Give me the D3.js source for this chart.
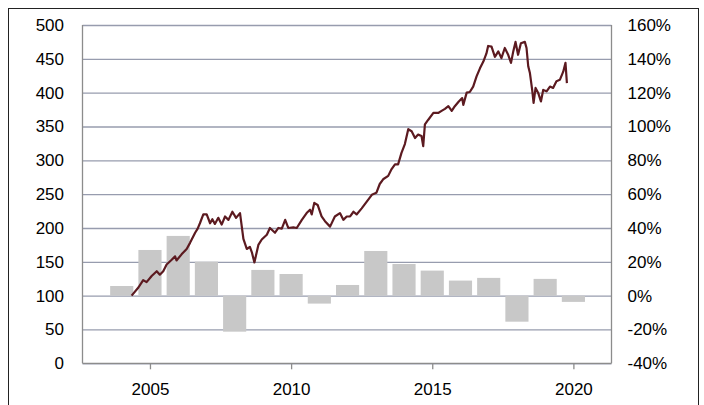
<!DOCTYPE html>
<html>
<head>
<meta charset="utf-8">
<script src="https://cdn.jsdelivr.net/npm/d3@7"></script>
<style>
  body { margin: 0; background: #fff; }
  svg text { font-family: "Liberation Sans", Arial, sans-serif; font-size: 17px; fill: #000; }
</style>
</head>
<body>
<svg width="704" height="405"></svg>
<script>
/*
 * Data.
 * Index level (left axis) as decimal years + values,
 * yearly returns in percent (right axis) as bars.
 */
var lineYears = [
  2004.35, 2004.59, 2004.76, 2004.88, 2005.06, 2005.24, 2005.35, 2005.47, 2005.59, 2005.77,
  2005.89, 2005.94, 2006.12, 2006.30, 2006.42, 2006.60, 2006.69, 2006.77, 2006.89, 2007.01,
  2007.13, 2007.21, 2007.30, 2007.42, 2007.54, 2007.66, 2007.78, 2007.92, 2008.05, 2008.19,
  2008.31, 2008.43, 2008.54, 2008.61, 2008.70, 2008.84, 2008.96, 2009.14, 2009.25, 2009.43,
  2009.55, 2009.67, 2009.79, 2009.90, 2010.08, 2010.20, 2010.38, 2010.55, 2010.67, 2010.73,
  2010.82, 2010.94, 2011.08, 2011.20, 2011.38, 2011.55, 2011.73, 2011.85, 2011.97, 2012.09,
  2012.21, 2012.32, 2012.50, 2012.68, 2012.86, 2013.02, 2013.14, 2013.26, 2013.44, 2013.56,
  2013.68, 2013.79, 2013.91, 2014.03, 2014.15, 2014.27, 2014.39, 2014.50, 2014.62, 2014.68,
  2014.74, 2014.86, 2015.04, 2015.21, 2015.33, 2015.45, 2015.57, 2015.69, 2015.80, 2015.94,
  2016.06, 2016.10, 2016.22, 2016.33, 2016.45, 2016.57, 2016.69, 2016.81, 2016.92, 2016.98,
  2017.10, 2017.22, 2017.34, 2017.45, 2017.57, 2017.69, 2017.79, 2017.87, 2017.95, 2018.04,
  2018.14, 2018.28, 2018.34, 2018.40, 2018.46, 2018.54, 2018.59, 2018.66, 2018.75, 2018.85,
  2018.93, 2019.05, 2019.17, 2019.28, 2019.40, 2019.52, 2019.64, 2019.72, 2019.77
];
var lineValues = [
  100, 112, 123, 120, 129, 136, 131, 136, 146, 153,
  158, 152, 161, 169, 178, 193, 199, 207, 220, 220,
  207, 213, 206, 215, 205, 217, 212, 224, 215, 222,
  184, 169, 172, 164, 149, 175, 183, 190, 200, 193,
  200, 199, 212, 200, 201, 200, 212, 222, 227, 220,
  237, 234, 217, 210, 202, 217, 222, 212, 217, 217,
  224, 220, 229, 239, 249, 252, 265, 272, 277, 287,
  294, 294, 311, 324, 346, 343, 333, 338, 336, 321,
  353, 360, 370, 370, 373, 376, 380, 373, 380, 387,
  392, 382, 400, 401, 409, 424, 436, 446, 458, 469,
  468, 453, 461, 451, 466, 456, 444, 461, 475, 456,
  473, 475, 466, 439, 429, 404, 385, 407, 400, 387,
  404, 402, 409, 407, 417, 419, 431, 444, 414
];

var barYears = [2004, 2005, 2006, 2007, 2008, 2009, 2010, 2011, 2012,
                2013, 2014, 2015, 2016, 2017, 2018, 2019, 2020];
var barReturns = [5.7, 27, 35.3, 20.1, -21.3, 15.2, 12.8, -4.7, 6.3,
                  26.4, 18.7, 14.8, 8.9, 10.5, -15.4, 9.9, -3.7];

var leftTicks = [0, 50, 100, 150, 200, 250, 300, 350, 400, 450, 500];
var rightTicks = [-40, -20, 0, 20, 40, 60, 80, 100, 120, 140, 160];
var yearTicks = [2005, 2010, 2015, 2020];

/*
 * Chart
 */
var svg = d3.select("svg");

// outer frame (bottom edge runs off the picture)
svg.append("rect")
  .attr("x", 8.5).attr("y", 8.5)
  .attr("width", 690).attr("height", 420)
  .attr("fill", "none")
  .attr("stroke", "#222")
  .attr("stroke-width", 1);

var plot = {left: 82.5, top: 25, right: 611.5, bottom: 363.3};
var width = plot.right - plot.left,
    height = plot.bottom - plot.top;

var g = svg.append("g")
  .attr("transform", "translate(" + plot.left + "," + plot.top + ")");

var x = d3.scaleLinear().domain([2002.61, 2021.35]).range([0, width]);
var yL = d3.scaleLinear().domain([0, 500]).range([height, 0]);
var yR = d3.scaleLinear().domain([-40, 160]).range([height, 0]);

// gridlines
g.append("g")
  .call(d3.axisLeft(yL).tickValues(leftTicks).tickSize(-width).tickFormat(""))
  .call(function (a) { a.select(".domain").remove(); })
  .selectAll("line")
    .attr("stroke", "#979cae")
    .attr("stroke-width", 1.3);

// bars
var bw = x(2004.41) - x(2004);
g.append("g")
  .selectAll("rect")
  .data(barYears)
  .enter().append("rect")
    .attr("x", function (d) { return x(d) - bw; })
    .attr("width", 2 * bw)
    .attr("y", function (d, i) { return yR(Math.max(0, barReturns[i])); })
    .attr("height", function (d, i) { return Math.abs(yR(barReturns[i]) - yR(0)); })
    .attr("fill", "#c8c8c8");

// index line
var line = d3.line()
  .x(function (d, i) { return x(lineYears[i]); })
  .y(function (d) { return yL(d); });

g.append("path")
  .datum(lineValues)
  .attr("d", line)
  .attr("fill", "none")
  .attr("stroke", "#5c1a20")
  .attr("stroke-width", 2.2)
  .attr("stroke-linejoin", "round");

// plot border: left, right, bottom
g.append("line").attr("x1", 0).attr("x2", 0).attr("y1", 0).attr("y2", height)
  .attr("stroke", "#8c8c8c").attr("stroke-width", 1.3);
g.append("line").attr("x1", width).attr("x2", width).attr("y1", 0).attr("y2", height)
  .attr("stroke", "#8c8c8c").attr("stroke-width", 1.3);

// axes
g.append("g")
  .call(d3.axisLeft(yL).tickValues(leftTicks).tickSize(0).tickPadding(18.5))
  .call(function (a) { a.select(".domain").remove(); })
  .selectAll("text").attr("font-size", null).attr("font-family", null);

g.append("g")
  .attr("transform", "translate(" + width + ",0)")
  .call(d3.axisRight(yR).tickValues(rightTicks).tickSize(0).tickPadding(16)
    .tickFormat(function (d) { return d + "%"; }))
  .call(function (a) { a.select(".domain").remove(); })
  .selectAll("text").attr("font-size", null).attr("font-family", null);

var xa = g.append("g")
  .attr("transform", "translate(0," + height + ")")
  .call(d3.axisBottom(x).tickValues(yearTicks).tickSize(6).tickPadding(14)
    .tickFormat(d3.format("d")));
xa.select(".domain").attr("stroke", "#8c8c8c").attr("stroke-width", 1.3)
  .attr("d", "M0,0H" + width);
xa.selectAll("line").attr("stroke", "#8c8c8c").attr("stroke-width", 1.3);
xa.selectAll("text").attr("font-size", null).attr("font-family", null);
</script>
</body>
</html>
